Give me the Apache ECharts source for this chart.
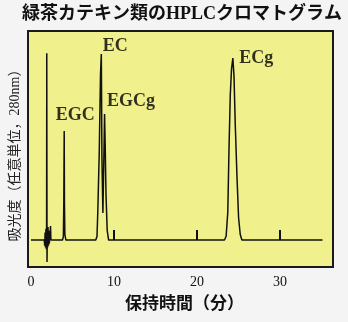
<!DOCTYPE html>
<html>
<head>
<meta charset="utf-8">
<script src="https://cdn.jsdelivr.net/npm/echarts@6/dist/echarts.min.js"></script>
<style>
html,body{margin:0;padding:0;background:#f4f4f4;}
#c{width:348px;height:322px;}
</style>
</head>
<body>
<div id="c"></div>
<script>
// Retention time (min) and absorbance (arbitrary units)
var times = [0, 1.6, 1.65, 1.7, 1.75, 1.8, 1.85, 1.88, 1.9, 1.93, 1.97, 2.0, 2.05, 2.1, 2.15, 2.2, 2.3, 2.35, 2.4, 2.5, 2.6,
  3.8, 3.9, 3.95, 4.0, 4.03, 4.08, 4.2,
  7.8, 7.95, 8.05, 8.22, 8.37, 8.47, 8.54, 8.66, 8.76, 8.86, 8.94, 9.03, 9.18, 9.35,
  23.3, 23.5, 23.7, 23.85, 24.0, 24.15, 24.31, 24.45, 24.6, 24.8, 25.0, 25.2, 25.4, 35.1];
var absorbance = [0, 0, -3, 4, -4, 6, -5, 3, 100.5, -11.8, 5, -4, 7, -3, 5, -2, 3, 7.5, 0, 1, 0,
  0, 2, 20, 58.6, 20, 3, 0,
  0, 2, 16, 47, 89, 100, 45, 14.5, 40, 67.7, 50, 25, 5, 0,
  0, 2, 15, 50, 78, 92, 97.8, 88, 62, 35, 12, 3, 0, 0];
var peakNames = ['EGC', 'EC', 'EGCg', 'ECg'];
var peakTimes = [4.0, 8.47, 8.86, 24.31];
var peakHeights = [58.6, 100, 67.7, 97.8];
var xLabels = [0, 10, 20, 30];
var xTicks = [10, 20, 30];

var lineData = times.map(function (t, i) { return [t, absorbance[i]]; });
var labelOffsets = [[11, -16], [14, -7.5], [26.5, -12.5], [23.5, 0.5]];
var peakData = peakNames.map(function (n, i) {
  return {
    name: n,
    value: [peakTimes[i], peakHeights[i]],
    label: { offset: labelOffsets[i] }
  };
});

var chart = echarts.init(document.getElementById('c'), null, { renderer: 'canvas' });
chart.setOption({
  backgroundColor: '#f4f4f4',
  animation: false,
  title: {
    text: '緑茶カテキン類のHPLCクロマトグラム',
    left: 17, top: 0,
    textStyle: { fontFamily: '"Liberation Serif","Noto Sans CJK JP"', fontWeight: 'bold', fontSize: 18, color: '#111' }
  },
  grid: {
    left: 27, right: 15, top: 31, bottom: 55,
    show: true, backgroundColor: '#f0f08c', borderColor: '#1a1a1a', borderWidth: 2
  },
  xAxis: {
    type: 'value', min: -0.36, max: 36.37,
    axisLine: { show: false },
    splitLine: { show: false },
    axisTick: { show: true, inside: true, length: 10, customValues: xTicks, lineStyle: { color: '#111', width: 2 } },
    axisLabel: { customValues: xLabels, fontSize: 14, fontFamily: '"Liberation Serif"', color: '#111', margin: 8 },
    name: '保持時間（分）',
    nameLocation: 'middle',
    nameGap: 29,
    nameTextStyle: { fontFamily: '"Liberation Serif","Noto Sans CJK JP"', fontWeight: 'bold', fontSize: 17, color: '#111', padding: [0, 0, 0, 8] }
  },
  yAxis: {
    type: 'value', min: -14.5, max: 112.4,
    axisLine: { show: false }, axisTick: { show: false }, axisLabel: { show: false }, splitLine: { show: false },
    name: '吸光度（任意単位，280nm）',
    nameLocation: 'middle',
    nameRotate: 90,
    nameGap: 6,
    nameTextStyle: { fontFamily: '"Liberation Serif","Noto Sans CJK JP"', fontSize: 14, color: '#222', padding: [0, 6, 0, 0] }
  },
  series: [
    {
      type: 'line',
      data: lineData,
      showSymbol: false,
      symbol: 'none',
      lineStyle: { color: '#111', width: 1.5 },
      z: 3
    },
    {
      type: 'scatter',
      data: peakData,
      symbolSize: 0,
      itemStyle: { color: 'transparent' },
      label: {
        show: true,
        position: 'inside',
        formatter: '{b}',
        fontFamily: '"Liberation Serif"',
        fontWeight: 'bold',
        fontSize: 18,
        color: '#000',
        textBorderWidth: 0,
        textBorderColor: 'transparent'
      },
      z: 4
    }
  ]
});
</script>
</body>
</html>
